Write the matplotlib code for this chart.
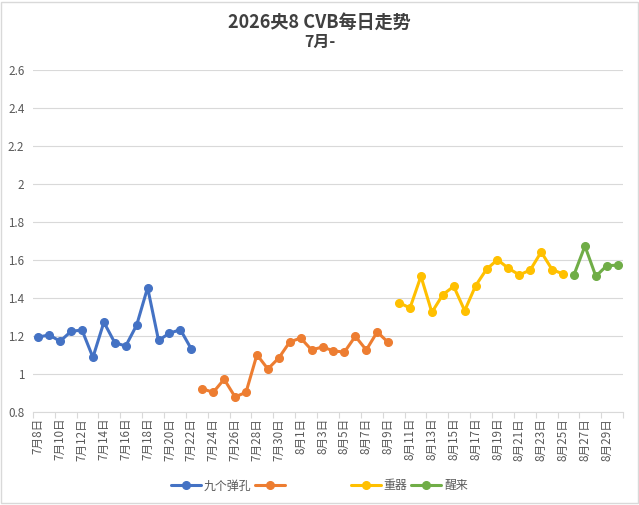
import matplotlib
matplotlib.use("Agg")
import matplotlib.pyplot as plt
import matplotlib.patches as mpatches
import numpy as np

plt.rcParams['font.family'] = ['Noto Sans CJK SC', 'DejaVu Sans']

# ---- data ----
dates = [f"7月{d}日" for d in range(8, 32)] + [f"8月{d}日" for d in range(1, 31)]

blue_name = "九个弹孔"
blue_vals = [1.196, 1.207, 1.174, 1.226, 1.233, 1.089, 1.274, 1.166, 1.149, 1.259,
             1.456, 1.179, 1.216, 1.235, 1.133]
orange_name = "\u3000\u3000\u3000\u3000\u3000"
orange_vals = [0.924, 0.905, 0.974, 0.881, 0.905, 1.103, 1.028, 1.086, 1.170, 1.191,
               1.128, 1.144, 1.123, 1.117, 1.200, 1.128, 1.223, 1.168]
yellow_name = "重器"
yellow_vals = [1.377, 1.349, 1.516, 1.326, 1.419, 1.463, 1.335, 1.466, 1.553, 1.603,
               1.558, 1.523, 1.549, 1.644, 1.551, 1.528]
green_name = "醒来"
green_vals = [1.524, 1.675, 1.516, 1.572, 1.574]

yticks = [0.8, 1.0, 1.2, 1.4, 1.6, 1.8, 2.0, 2.2, 2.4, 2.6]
ytick_labels = ["0.8", "1", "1.2", "1.4", "1.6", "1.8", "2", "2.2", "2.4", "2.6"]

title = "2026央8 CVB每日走势"
subtitle = "7月-"

# ---- figure ----
W, H = 639, 505
fig = plt.figure(figsize=(W / 100, H / 100), dpi=100)
left, right, top, bottom = 32.8, 623.2, 70.3, 412.3
ax = fig.add_axes([left / W, 1 - bottom / H, (right - left) / W, (bottom - top) / H])

x = np.arange(len(dates))
series = [
    (blue_name, blue_vals, "#4472C4"),
    (orange_name, orange_vals, "#ED7D31"),
    (yellow_name, yellow_vals, "#FFC000"),
    (green_name, green_vals, "#70AD47"),
]
start = 0
for name, vals, col in series:
    xs = x[start:start + len(vals)]
    ax.plot(xs, vals, color=col, lw=2.2, marker='o', ms=5.5, label=name,
            solid_joinstyle='round', solid_capstyle='round', zorder=3)
    start += len(vals)

ax.set_xlim(-0.5, len(dates) - 0.5)
ax.set_ylim(0.8, 2.6)
ax.set_yticks(yticks)
ax.set_yticklabels(ytick_labels)
ax.yaxis.grid(True, color="#D9D9D9", lw=0.8)
ax.set_axisbelow(True)

ax.set_xticks(np.arange(-0.5, len(dates), 2))
ax.set_xticklabels([])
ax.set_xticks(x[::2], minor=True)
ax.set_xticklabels(dates[::2], minor=True, rotation=90, fontsize=8.4, color="#595959")
ax.tick_params(axis='x', which='major', length=4, color="#D9D9D9", direction='out')
ax.tick_params(axis='x', which='minor', length=0, pad=4)
ax.tick_params(axis='y', length=0, pad=6, labelsize=8.4, labelcolor="#595959")

for s in ['top', 'right', 'left']:
    ax.spines[s].set_visible(False)
ax.spines['bottom'].set_color("#D9D9D9")
ax.spines['bottom'].set_linewidth(0.8)

fig.text(319.5 / W, 1 - 22 / H, title, ha='center', va='center', fontsize=13,
         fontweight='bold', color="#404040")
fig.text(319.5 / W, 1 - 42 / H, subtitle, ha='center', va='center', fontsize=11.5,
         fontweight='bold', color="#404040")

fig.legend(loc='center', bbox_to_anchor=(319.5 / W, 1 - 486 / H), ncol=4, frameon=False,
           fontsize=8.6, handlelength=2.5, handletextpad=0.25, columnspacing=0.3,
           labelcolor="#595959")

fig.patches.append(mpatches.Rectangle((1 / W, 2.5 / H), 636.5 / W, 501 / H,
                                      transform=fig.transFigure, fill=False,
                                      edgecolor="#D9D9D9", lw=1))

fig.savefig("out.png", dpi=100)
